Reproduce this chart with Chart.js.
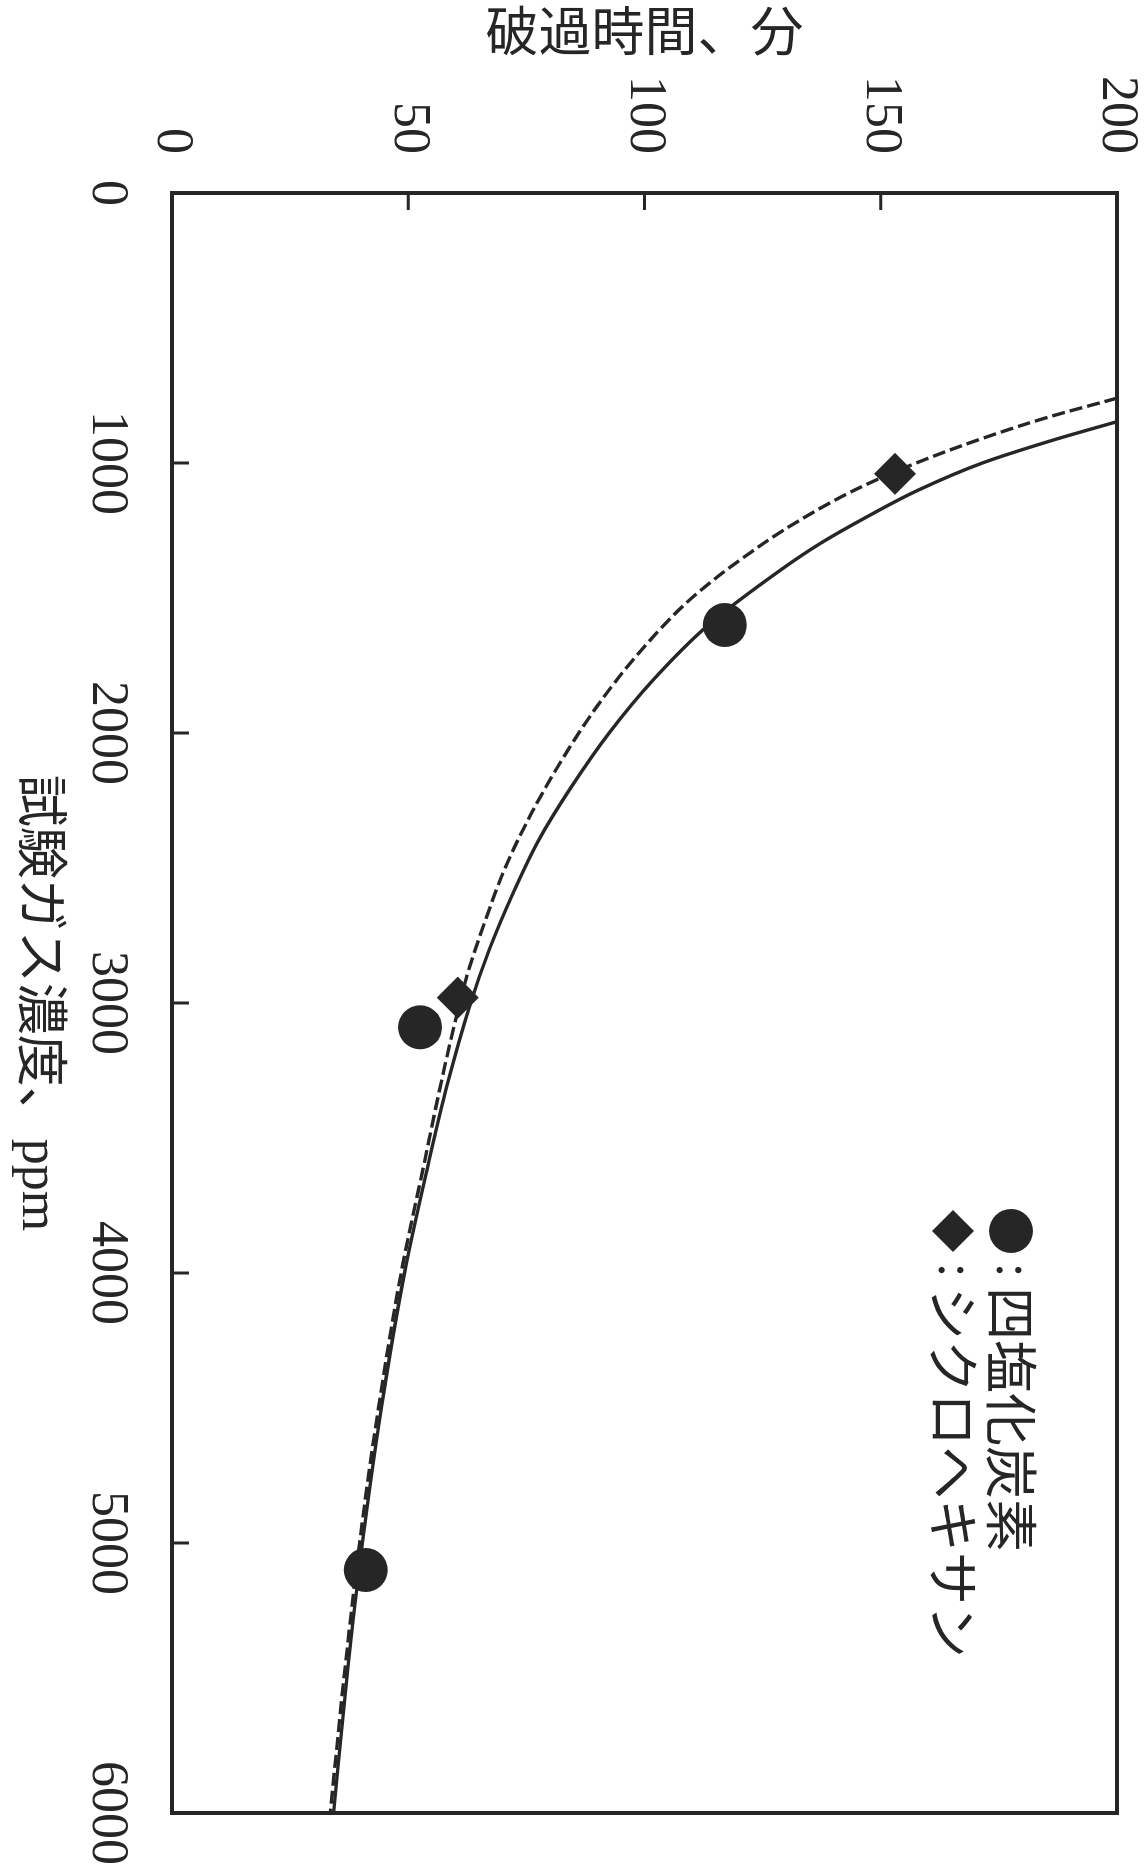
<!DOCTYPE html>
<html lang="ja">
<head>
<meta charset="utf-8">
<title>破過時間と試験ガス濃度</title>
<script src="https://cdn.jsdelivr.net/npm/chart.js@4.4.1/dist/chart.umd.min.js"></script>
<style>
  html, body { margin: 0; padding: 0; background: #fff; }
  body { width: 1144px; height: 1865px; position: relative; overflow: hidden; }
  /* the figure is laid out landscape and turned a quarter turn clockwise */
  #wrap {
    position: absolute; left: 0; top: 0;
    width: 1865px; height: 1144px;
    transform-origin: 0 0;
    transform: translateX(1144px) rotate(90deg);
  }
  canvas { display: block; }
</style>
</head>
<body>
<div id="wrap"><canvas id="chart" width="1865" height="1144"></canvas></div>
<script>
// 試験ガス濃度 (ppm) の目盛と破過時間 (分) の目盛
const concTicks = [0, 1000, 2000, 3000, 4000, 5000, 6000];
const timeTicks = [0, 50, 100, 150, 200];

// 測定値
const ccl4Conc = [1600, 3090, 5100];
const ccl4Time = [117, 52.5, 41];
const cyhexConc = [1040, 2980];
const cyhexTime = [153, 60.5];

// 近似曲線 (四塩化炭素: 実線, シクロヘキサン: 破線)
const ccl4FitConc = [847, 915, 1000, 1100, 1200, 1300, 1400, 1600, 1800, 2000, 2200, 2400, 2600, 2800, 3000, 3300, 3600, 4000, 4500, 5000, 5500, 6000];
const ccl4FitTime = [200, 186.5, 171.5, 158, 147, 137, 128.5, 113.5, 102, 92.5, 84.5, 77.5, 72, 67.2, 63.2, 58.3, 54.2, 49.2, 44.3, 40.3, 37.0, 34.2];
const cyhexFitConc = [760, 830, 900, 1000, 1100, 1200, 1300, 1500, 1700, 1900, 2100, 2300, 2500, 2700, 2900, 3100, 3300, 3600, 4000, 4500, 5000, 5500, 6000];
const cyhexFitTime = [200, 185.5, 173, 157.5, 144.5, 134, 125, 110, 99, 90, 82.5, 76, 70.5, 66.2, 62.4, 59.5, 56.9, 53.3, 48.5, 43.7, 39.7, 36.4, 33.5];

const seriesNames = ['四塩化炭素', 'シクロヘキサン'];
const xTitle = '試験ガス濃度、ppm';
const yTitle = '破過時間、分';

const ink = '#262626';
const serifFont = "'Liberation Serif', 'Times New Roman', 'Noto Sans CJK JP', serif";
const cjkFont = "'Noto Sans CJK JP', 'Liberation Serif', sans-serif";

const pairs = (xs, ys) => xs.map((x, i) => ({ x: x, y: ys[i] }));

// plot frame with inward tick marks on the two value axes
const framePlugin = {
  id: 'frame',
  afterDatasetsDraw(chart) {
    const { ctx, chartArea: a, scales } = chart;
    ctx.save();
    ctx.strokeStyle = ink;
    ctx.lineWidth = 4;
    ctx.strokeRect(a.left, a.top, a.right - a.left, a.bottom - a.top);
    ctx.lineWidth = 3;
    const len = 17;
    ctx.beginPath();
    concTicks.slice(1, -1).forEach(v => {
      const px = scales.x.getPixelForValue(v);
      ctx.moveTo(px, a.bottom);
      ctx.lineTo(px, a.bottom - len);
    });
    timeTicks.slice(1, -1).forEach(v => {
      const py = scales.y.getPixelForValue(v);
      ctx.moveTo(a.left, py);
      ctx.lineTo(a.left + len, py);
    });
    ctx.stroke();
    ctx.restore();
  }
};

// legend block inside the plot: marker, colon, name
const legendPlugin = {
  id: 'innerLegend',
  afterDraw(chart) {
    const { ctx } = chart;
    const rows = [
      { name: seriesNames[0], style: 'circle', r: 22, y: 133 },
      { name: seriesNames[1], style: 'rectRot', r: 21, y: 191 }
    ];
    const mx = 1231, colonX = 1270, textX = 1287;
    ctx.save();
    rows.forEach(row => {
      ctx.fillStyle = ink;
      ctx.beginPath();
      if (row.style === 'circle') {
        ctx.arc(mx, row.y, row.r, 0, Math.PI * 2);
      } else {
        ctx.moveTo(mx - row.r, row.y);
        ctx.lineTo(mx, row.y - row.r);
        ctx.lineTo(mx + row.r, row.y);
        ctx.lineTo(mx, row.y + row.r);
        ctx.closePath();
      }
      ctx.fill();
      ctx.textBaseline = 'middle';
      ctx.font = "53px " + serifFont;
      ctx.textAlign = 'center';
      ctx.fillText(':', colonX, row.y);
      ctx.font = "53px " + cjkFont;
      ctx.textAlign = 'left';
      ctx.fillText(row.name, textX, row.y);
    });
    ctx.restore();
  }
};

const ctx = document.getElementById('chart').getContext('2d');
new Chart(ctx, {
  type: 'scatter',
  data: {
    datasets: [
      {
        label: seriesNames[0],
        data: pairs(ccl4Conc, ccl4Time),
        pointStyle: 'circle',
        pointRadius: 22,
        pointBackgroundColor: ink,
        pointBorderColor: ink,
        pointBorderWidth: 0,
        showLine: false
      },
      {
        label: seriesNames[1],
        data: pairs(cyhexConc, cyhexTime),
        pointStyle: 'rectRot',
        pointRadius: 21,
        pointBackgroundColor: ink,
        pointBorderColor: ink,
        pointBorderWidth: 0,
        showLine: false
      },
      {
        label: seriesNames[0],
        data: pairs(ccl4FitConc, ccl4FitTime),
        showLine: true,
        pointRadius: 0,
        borderColor: ink,
        borderWidth: 3.4,
        cubicInterpolationMode: 'monotone',
        fill: false
      },
      {
        label: seriesNames[1],
        data: pairs(cyhexFitConc, cyhexFitTime),
        showLine: true,
        pointRadius: 0,
        borderColor: ink,
        borderWidth: 3.4,
        borderDash: [13, 5],
        cubicInterpolationMode: 'monotone',
        fill: false
      }
    ]
  },
  options: {
    responsive: false,
    animation: false,
    devicePixelRatio: 1,
    layout: { padding: { top: 27, right: 52, left: 0, bottom: 0 } },
    plugins: { legend: { display: false }, tooltip: { enabled: false } },
    scales: {
      x: {
        type: 'linear',
        position: 'bottom',
        min: concTicks[0],
        max: concTicks[concTicks.length - 1],
        afterBuildTicks: s => { s.ticks = concTicks.map(v => ({ value: v })); },
        afterFit: s => { s.height = 172; s.paddingLeft = 0; s.paddingRight = 0; },
        grid: { display: false, drawTicks: false, tickLength: 0 },
        border: { display: false },
        ticks: {
          color: ink,
          font: { family: serifFont, size: 52 },
          padding: 34,
          maxRotation: 0,
          autoSkip: false,
          callback: v => String(v)
        },
        title: {
          display: true,
          text: xTitle,
          color: ink,
          font: { family: serifFont, size: 52 },
          padding: { top: 0, bottom: 5 }
        }
      },
      y: {
        type: 'linear',
        position: 'left',
        min: timeTicks[0],
        max: timeTicks[timeTicks.length - 1],
        afterBuildTicks: s => { s.ticks = timeTicks.map(v => ({ value: v })); },
        afterFit: s => { s.width = 193; s.paddingTop = 0; s.paddingBottom = 0; },
        grid: { display: false, drawTicks: false, tickLength: 0 },
        border: { display: false },
        ticks: {
          color: ink,
          font: { family: serifFont, size: 52 },
          padding: 39,
          autoSkip: false,
          callback: v => String(v)
        },
        title: {
          display: true,
          text: yTitle,
          color: ink,
          font: { family: serifFont, size: 53 },
          padding: { top: 5, bottom: 0 }
        }
      }
    }
  },
  plugins: [framePlugin, legendPlugin]
});
</script>
</body>
</html>
